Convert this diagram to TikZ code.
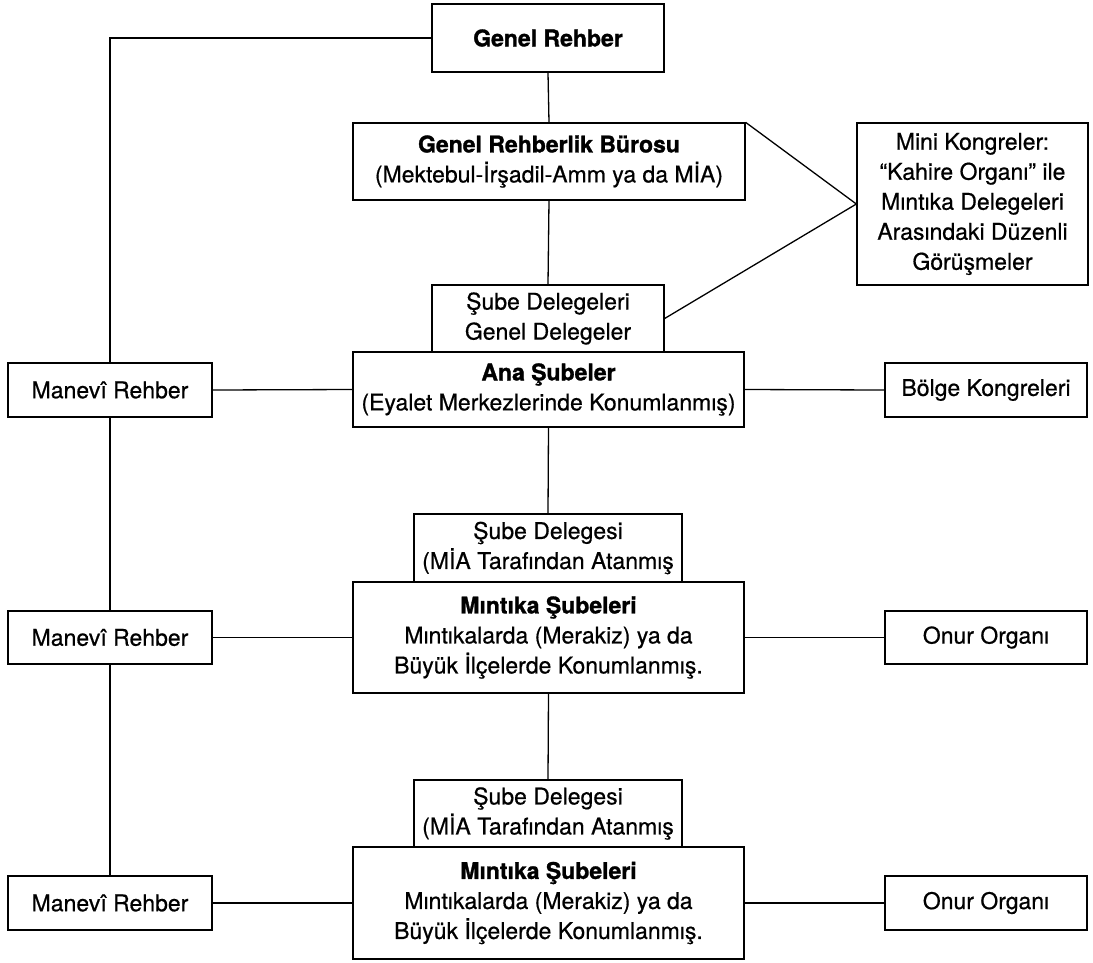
\documentclass[tikz,border=0pt]{standalone}
\usepackage{fontspec}
\setmainfont{TeX Gyre Heros}[UprightFeatures={FakeBold=0.6}, BoldFeatures={FakeBold=1.2}]
\usepackage{tikz}

\tikzset{
  kutu/.style={draw, line width=1.3pt, align=center, inner sep=0pt, font=\fontsize{23}{30}\selectfont},
  hat/.style={line width=1.3pt}
}

\begin{document}
\begin{tikzpicture}[x=1pt,y=-1pt]
                        \useasboundingbox (0,0) rectangle (1093,962);
                        \node[kutu, minimum width=232, minimum height=68] (gr) at (548,38) {\textbf{Genel Rehber}};
                        \node[kutu, minimum width=392, minimum height=77] (grb) at (549,161.5) {\textbf{Genel Rehberlik Bürosu}\\(Mektebul-İrşadil-Amm ya da MİA)};
                        \node[kutu, minimum width=231, minimum height=162] (mini) at (972.5,204) {Mini Kongreler:\\“Kahire Organı” ile\\Mıntıka Delegeleri\\Arasındaki Düzenli\\Görüşmeler};
                        \node[kutu, minimum width=232, minimum height=67] (sdg) at (548,318.5) {Şube Delegeleri\\Genel Delegeler};
                        \node[kutu, minimum width=391, minimum height=75] (ana) at (548.5,389.5) {\textbf{Ana Şubeler}\\(Eyalet Merkezlerinde Konumlanmış)};
                        \node[kutu, minimum width=204, minimum height=54] (mr1) at (110,390) {Manevî Rehber};
                        \node[kutu, minimum width=202, minimum height=54] (bk) at (986,390) {Bölge Kongreleri};

                        \node[kutu, minimum width=268, minimum height=68] (sd1) at (548,548) {Şube Delegesi\\(MİA Tarafından Atanmış};
                        \node[kutu, minimum width=391, minimum height=111] (mint1) at (548.5,637.5) {\textbf{Mıntıka Şubeleri}\\Mıntıkalarda (Merakiz) ya da\\Büyük İlçelerde Konumlanmış.};
                        \node[kutu, minimum width=204, minimum height=53] (mr2) at (110,637.5) {Manevî Rehber};
                        \node[kutu, minimum width=202, minimum height=53] (onur1) at (986,637.5) {Onur Organı};

                        \node[kutu, minimum width=268, minimum height=67] (sd2) at (548,813.5) {Şube Delegesi\\(MİA Tarafından Atanmış};
                        \node[kutu, minimum width=391, minimum height=112] (mint2) at (548.5,903) {\textbf{Mıntıka Şubeleri}\\Mıntıkalarda (Merakiz) ya da\\Büyük İlçelerde Konumlanmış.};
                        \node[kutu, minimum width=204, minimum height=54] (mr3) at (110,903) {Manevî Rehber};
                        \node[kutu, minimum width=202, minimum height=54] (onur2) at (986,903) {Onur Organı};

                        \draw[hat] (gr.west) -| (mr1.north);
                        \draw[hat] (mr1.south) -- (mr2.north);
                        \draw[hat] (mr2.south) -- (mr3.north);
                        \draw[hat] (gr.south) -- (grb.north);
                        \draw[hat] (grb.south) -- (sdg.north);
                        \draw[hat] (grb.north east) -- (mini.west) -- (sdg.east);
                        \draw[hat] (mr1.east) -- (ana.west);
                        \draw[hat] (ana.east) -- (bk.west);
                        \draw[hat] (ana.south) -- (sd1.north);
                        \draw[hat] (mr2.east) -- (mint1.west);
                        \draw[hat] (mint1.east) -- (onur1.west);
                        \draw[hat] (mint1.south) -- (sd2.north);
                        \draw[hat] (mr3.east) -- (mint2.west);
                        \draw[hat] (mint2.east) -- (onur2.west);
                    \end{tikzpicture}
\end{document}
